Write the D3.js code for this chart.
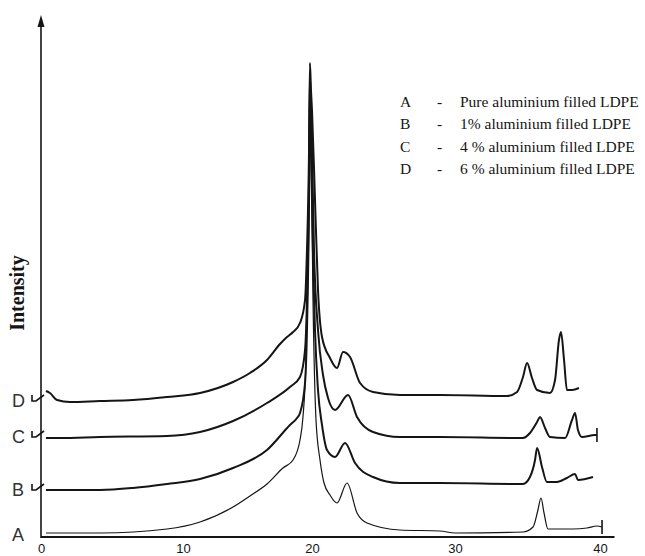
<!DOCTYPE html>
<html><head><meta charset="utf-8">
<script src="https://cdn.jsdelivr.net/npm/d3@7"></script>
<style>body{margin:0;background:#fff}</style>
</head><body><svg id="chart" width="645" height="556"></svg>
<script>
const seriesNames = ["A","B","C","D"];
const legendLabels = ["Pure aluminium filled LDPE","1% aluminium filled LDPE","4 % aluminium filled LDPE","6 % aluminium filled LDPE"];
const xTickValues = [0,10,20,30,40];
const offsets = [0,45,98,134];
const yLabel = "Intensity";

const seriesA = [[0.35,4],[4.15,4],[8.87,8],[11.32,15],[13.88,30],[15.19,41],[16.51,53],[17.75,69],[18.53,77],[19.07,97],[19.30,120],[19.53,177],[19.69,287],[19.77,367],[19.84,440],[19.92,397],[20.07,237],[20.28,117],[20.56,77],[20.84,54],[21.26,42],[21.75,34],[22.45,54],[23.15,24],[23.85,14],[26.15,7],[28.95,6],[30.00,4],[34.69,5],[35.38,10],[35.72,27],[35.93,39],[36.14,24],[36.41,8],[38.14,8],[39.10,9],[39.79,11],[40.14,10]];
const seriesB = [[0.35,2],[4.15,2],[6.48,4],[8.87,8],[11.32,13],[13.88,24],[16.51,42],[18.29,67],[18.84,74],[19.07,79],[19.46,109],[19.61,162],[19.77,292],[19.84,402],[19.92,362],[20.00,292],[20.21,162],[20.42,102],[20.70,67],[21.05,42],[21.61,35],[22.31,49],[23.01,29],[24.27,15],[26.15,9],[28.95,9],[34.69,8],[35.17,15],[35.52,32],[35.66,44],[36.00,25],[36.34,10],[37.03,10],[37.72,14],[38.28,18],[38.48,12],[39.52,15]];
const seriesC = [[0.35,1],[1.34,1],[4.15,2],[8.87,3],[11.32,7],[13.88,18],[16.51,36],[18.29,52],[19.07,62],[19.46,89],[19.61,139],[19.77,259],[19.84,364],[19.92,329],[20.00,289],[20.14,189],[20.42,109],[20.77,64],[21.12,41],[21.61,29],[22.52,44],[23.15,22],[24.27,7],[26.15,2],[28.95,2],[34.69,1],[35.17,6],[35.66,17],[35.86,22],[36.21,11],[36.55,2],[37.59,1],[38.07,19],[38.28,26],[38.48,9],[38.76,2],[39.66,4],[39.79,4]];
const seriesD = [[0.35,12],[0.63,10],[1.13,3],[2.04,1],[4.15,2],[6.48,3],[8.87,6],[11.32,10],[13.88,21],[15.19,30],[16.51,43],[17.52,59],[18.06,66],[18.53,71],[19.07,80],[19.46,103],[19.61,153],[19.77,253],[19.84,340],[19.92,313],[20.00,293],[20.21,203],[20.42,113],[20.70,66],[21.26,45],[21.75,35],[22.17,51],[22.66,46],[23.36,20],[24.27,11],[26.15,8],[28.95,8],[33.59,7],[34.28,11],[34.69,26],[34.97,40],[35.31,25],[35.66,13],[36.55,10],[36.90,23],[37.17,63],[37.31,71],[37.52,43],[37.72,13],[38.07,13],[38.55,15]];

const allSeries = [seriesA, seriesB, seriesC, seriesD];
const strokeWidths = [1.2, 2, 2, 2];
const hasBreak = [false, true, true, true];
const hasEndTick = [true, false, true, false];

const svg = d3.select("#chart");
const ink = "#151515";

const x = d3.scaleLinear().domain([0,10,20,30,40]).range([41,183,312,455,600]);
const y = d3.scaleLinear().domain([0,474]).range([537,63]);

// x axis
const xAxis = d3.axisBottom(x).tickValues(xTickValues).tickSize(0).tickPadding(7);
const gx = svg.append("g").attr("transform", `translate(0,${y(0)})`).call(xAxis);
gx.select(".domain").remove();
gx.selectAll("text").attr("font-family","'Liberation Sans', Arial, sans-serif").attr("font-size",13).attr("fill",ink);
svg.append("line").attr("x1", x(0)).attr("x2", x(41)).attr("y1", y(0)).attr("y2", y(0))
  .attr("stroke", ink).attr("stroke-width", 2);

// y axis with arrow
svg.append("line").attr("x1", x(0)).attr("x2", x(0)).attr("y1", y(0)+1).attr("y2", y(512))
  .attr("stroke", ink).attr("stroke-width", 1.6);
svg.append("path")
  .attr("d", `M${x(0)},${y(522)} L${x(0)-3.5},${y(510)} L${x(0)+3.5},${y(510)} Z`)
  .attr("fill", ink);

svg.append("text")
  .attr("transform", `translate(24,${y(244)}) rotate(-90)`)
  .attr("text-anchor","middle")
  .attr("font-family","'Liberation Serif', 'Times New Roman', serif")
  .attr("font-weight","bold").attr("font-size",20).attr("fill",ink)
  .text(yLabel);

// curves
const line = d3.line().x(d => x(d[0])).y(d => y(d[1])).curve(d3.curveMonotoneX);
allSeries.forEach((s, i) => {
  const off = offsets[i];
  svg.append("path")
    .datum(s.map(d => [d[0], d[1] + off]))
    .attr("d", line)
    .attr("fill","none").attr("stroke", ink)
    .attr("stroke-width", strokeWidths[i]).attr("stroke-linejoin","round");
  const b = y(off + 2);
  if (hasBreak[i]) {
    svg.append("path")
      .attr("d", `M32,${b-6} L32,${b} L36,${b} L44,${b-6}`)
      .attr("fill","none").attr("stroke", ink).attr("stroke-width", 1.6);
  }
  if (hasEndTick[i]) {
    const last = s[s.length-1];
    svg.append("line")
      .attr("x1", x(last[0])).attr("x2", x(last[0]))
      .attr("y1", y(last[1]+off)-7).attr("y2", y(last[1]+off)+7)
      .attr("stroke", ink).attr("stroke-width", 1.6);
  }
  svg.append("text")
    .attr("x", 12).attr("y", b)
    .attr("dominant-baseline","central")
    .attr("font-family","'Liberation Sans', Arial, sans-serif")
    .attr("font-size",18).attr("fill","#333")
    .text(seriesNames[i]);
});

// legend
const legend = svg.append("g")
  .attr("font-family","'Liberation Serif', 'Times New Roman', serif")
  .attr("font-size",15.5).attr("fill",ink);
seriesNames.forEach((n, i) => {
  const ly = 101 + i*22.5;
  legend.append("text").attr("x",400).attr("y",ly).attr("dominant-baseline","central").text(n);
  legend.append("text").attr("x",437).attr("y",ly).attr("dominant-baseline","central").text("-");
  legend.append("text").attr("x",460).attr("y",ly).attr("dominant-baseline","central").text(legendLabels[i]);
});
</script>
</body></html>
